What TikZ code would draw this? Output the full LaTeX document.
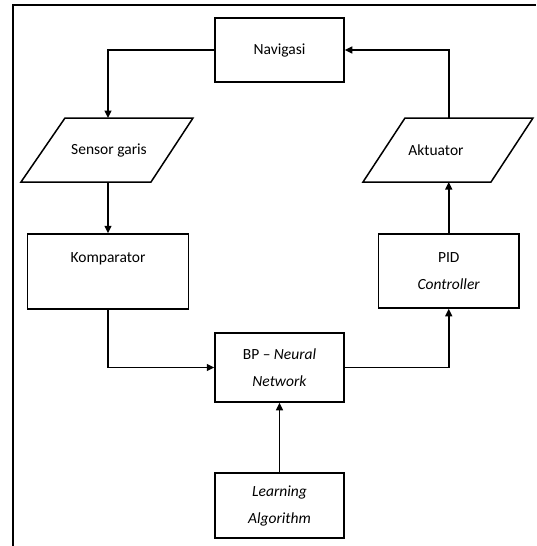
\documentclass[tikz,border=0pt]{standalone}
\usepackage{fontspec}
\setmainfont{Carlito}
\usetikzlibrary{arrows.meta}
\begin{document}
\begin{tikzpicture}[x=1pt,y=-1pt,
  box/.style={draw,line width=1.5pt,rectangle,inner sep=0pt,align=center,
    font=\fontsize{15.5pt}{27pt}\selectfont},
  lbl/.style={inner sep=0pt,align=center,font=\fontsize{15.5pt}{27pt}\selectfont},
  shapeline/.style={draw,line width=1.5pt,line join=miter},
  conn/.style={line width=1.5pt,-{Triangle[length=7.5pt,width=7pt]}},
  frame/.style={line width=2.2pt}]
\useasboundingbox (0,0) rectangle (536,546);
\fill[white] (0,0) rectangle (536,546);
% frame
\draw[frame] (13,546) -- (13,5) -- (536,5);
% boxes
\node[box,minimum width=129pt,minimum height=64pt] (nav) at (279.5,50) {Navigasi};
\node[box,minimum width=161pt,minimum height=75pt] (kom) at (108,271.5) {Komparator\\\mbox{}};
\node[box,minimum width=140.5pt,minimum height=74pt] (pid) at (448.75,271) {PID\\\textit{Controller}};
\node[box,minimum width=129pt,minimum height=69pt] (bp) at (279.5,367.5) {BP -- \textit{Neural}\\\textit{Network}};
\node[box,minimum width=129pt,minimum height=65pt] (learn) at (279.5,505.5) {\textit{Learning}\\\textit{Algorithm}};
% parallelograms
\draw[shapeline] (65,118) -- (193,118) -- (151,182) -- (21,182) -- cycle;
\node[lbl] (sensor) at (109,150) {Sensor garis};
\coordinate (sensortop) at (108,118);
\coordinate (sensorbot) at (108,182);
\draw[shapeline] (405,118) -- (533,118) -- (491,182) -- (363,182) -- cycle;
\node[lbl] (akt) at (436,150) {Aktuator};
\coordinate (akttop) at (448.75,118);
\coordinate (aktbot) at (448.75,182);
% connectors
\draw[conn] (nav.west) -| (sensortop);
\draw[conn] (akttop) |- (nav.east);
\draw[conn] (sensorbot) -- (kom.north);
\draw[conn] (pid.north) -- (aktbot);
\draw[conn] (kom.south) |- (bp.west);
\draw[conn] (bp.east) -| (pid.south);
\draw[conn] (learn.north) -- (bp.south);
\end{tikzpicture}
\end{document}
